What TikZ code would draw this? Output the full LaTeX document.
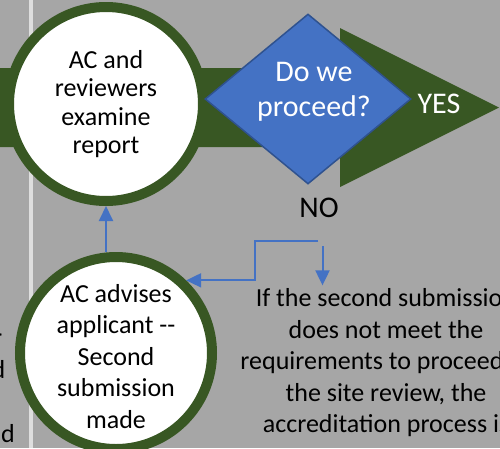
\documentclass[tikz,border=0pt]{standalone}
\usepackage{fontspec}
\setmainfont{Carlito}
\usetikzlibrary{arrows.meta,shapes.geometric}
\definecolor{bg}{RGB}{166,166,166}
\definecolor{dgreen}{RGB}{56,87,35}
\definecolor{dblue}{RGB}{68,114,196}
\definecolor{navy}{RGB}{47,82,143}
\definecolor{vline}{RGB}{222,222,222}
\begin{document}
\begin{tikzpicture}[x=1pt,y=-1pt,
  ring/.style={circle, draw=dgreen, line width=10pt, fill=white, inner sep=0pt,
    align=center, text=black},
  conn/.style={draw=dblue, line width=2pt, -{Triangle[width=14pt,length=15pt]}},
  big/.style={font=\fontsize{30}{35}\selectfont, inner sep=0pt, align=center},
  body/.style={font=\fontsize{26}{31.5}\selectfont},
  frag/.style={font=\fontsize{26}{31.5}\selectfont, inner sep=0pt, anchor=base east}]
\useasboundingbox (0,0) rectangle (500,448);
\fill[bg] (0,0) rectangle (500,448);
\clip (0,0) rectangle (500,448);
\draw[vline, line width=3.5pt] (31,0) -- (31,448);
% big green arrow
\fill[dgreen] (0,68) -- (340,68) -- (340,28) -- (499,107.5) -- (340,187) -- (340,147) -- (0,147) -- cycle;
% top circle
\node[ring, minimum size=194pt, font=\fontsize{26}{28.5}\selectfont] (rev) at (106,104)
  {AC and\\reviewers\\examine\\report};
% decision diamond
\node[diamond, draw=navy, line width=1.5pt, fill=dblue, minimum width=206pt,
  minimum height=170pt, inner sep=0pt] (dec) at (308,99) {};
\node[big, text=white] (dectxt) at (314,92) {Do we\\proceed?};
\node[big, text=white] (yes) at (439,104) {YES};
\node[big, text=black] (no) at (319,207.5) {NO};
% clipped fragments at the left edge
\node[frag] (f1) at (2.5,346) {r};
\node[frag] (f2) at (5.5,378) {d};
\node[frag] (f3) at (15,442) {d};
% bottom circle
\node[ring, minimum size=192pt] (sub) at (116,353) {};
\node[body, align=center, inner sep=0pt] (subtxt) at (116,356.5)
  {AC advises\\applicant {-}{-}\\Second\\submission\\made};
% note text
\node[body, align=center] (txt) at (386,363)
  {If the second submission\\does not meet the\\requirements to proceed to\\the site review, the\\accreditation process is};
% connectors
\draw[conn] (sub.north -| rev.south) -- (rev.south);
\coordinate (c1) at (318,241);
\draw[conn] (c1) -- (255,241) |- (sub.46);
\coordinate (c2) at (322.5,246);
\draw[conn] (c2) -- (c2 |- txt.north);
\end{tikzpicture}
\end{document}
